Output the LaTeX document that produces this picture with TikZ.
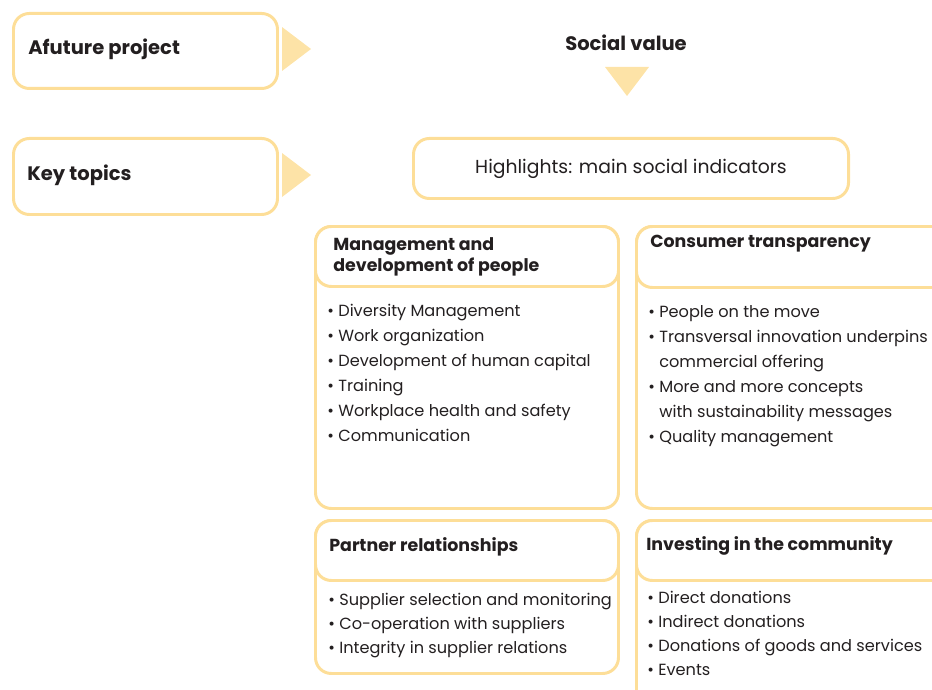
\documentclass[tikz,border=0pt]{standalone}
\usepackage{fontspec}
\setmainfont{Poppins}
\usetikzlibrary{positioning}
\definecolor{sunline}{RGB}{253,222,152}
\definecolor{sunfill}{RGB}{253,227,167}
\definecolor{ink}{RGB}{35,31,32}

\begin{document}
\begin{tikzpicture}[
      x=0.02cm, y=-0.02cm,
      dims/.style 2 args={minimum width=#1*0.02cm, minimum height=#2*0.02cm},
      frame/.style={draw=sunline, line width=1.7pt, rounded corners=9pt,
        fill=white, anchor=north west, inner sep=0pt, text=ink},
      title/.style={font=\bfseries\fontsize{11.1}{13}\selectfont, text=ink,
        inner sep=0pt, align=left},
      head/.style={font=\bfseries\fontsize{9.9}{12}\selectfont, text=ink,
        anchor=west, inner sep=0pt, align=left},
      items/.style={font=\fontsize{9.2}{14.2}\selectfont, text=ink,
        anchor=north west, inner sep=0pt, align=left},
      pointer/.style={fill=sunfill}
    ]
    \useasboundingbox (0,0) rectangle (932,689);
    \clip (0,0) rectangle (932,689);

    % left column
    \node[frame, dims={264}{75}]  (future) at (12,12)  {};
    \node[frame, dims={264}{76}]  (topics) at (12,137) {};
    \node[title, anchor=west] (futuretxt) at (28,49)  {Afuture project};
    \node[title, anchor=west] (topicstxt) at (27,175) {Key topics};
    \fill[pointer] (282,27)  -- (311,49)  -- (282,71)  -- cycle;
    \fill[pointer] (282,153) -- (311,175) -- (282,197) -- cycle;

    % top of the right part
    \node[title] (social) at (626,43) {Social value};
    \fill[pointer] (605,67) -- (649,67) -- (627,96) -- cycle;
    \node[frame, dims={435}{60}, font=\fontsize{10.7}{13}\selectfont]
      (highlight) at (412,137) {Highlights: main social indicators};

    % four topic boxes: body first, header on top
    \node[frame, dims={303}{282}] (people)    at (314,225) {};
    \node[frame, dims={303}{60}]  (peoplehd)  at (314,225) {};
    \node[frame, dims={320}{282}] (consumer)  at (635,225) {};
    \node[frame, dims={320}{61}]  (consumerhd) at (635,225) {};
    \node[frame, dims={303}{153}] (partner)   at (314,519) {};
    \node[frame, dims={303}{60}]  (partnerhd) at (314,519) {};
    \node[frame, dims={320}{200}] (community) at (635,519) {};
    \node[frame, dims={320}{60}]  (communityhd) at (635,519) {};

    \node[head] (peopletxt) at (333,257)
      {Management and\\development of people};
    \node[head] (consumertxt)  at (650,244) {Consumer transparency};
    \node[head] (partnertxt)   at (329,547) {Partner relationships};
    \node[head] (communitytxt) at (646,546) {Investing in the community};

    \node[items] (peoplelist) at (327,304)
      {\textbullet\ Diversity Management\\
       \textbullet\ Work organization\\
       \textbullet\ Development of human capital\\
       \textbullet\ Training\\
       \textbullet\ Workplace health and safety\\
       \textbullet\ Communication};
    \node[items] (consumerlist) at (648,305)
      {\textbullet\ People on the move\\
       \textbullet\ Transversal innovation underpins\\
       \hphantom{\textbullet\ }commercial offering\\
       \textbullet\ More and more concepts\\
       \hphantom{\textbullet\ }with sustainability messages\\
       \textbullet\ Quality management};
    \node[items, font=\fontsize{9.2}{13.7}\selectfont] (partnerlist) at (328,593)
      {\textbullet\ Supplier selection and monitoring\\
       \textbullet\ Co-operation with suppliers\\
       \textbullet\ Integrity in supplier relations};
    \node[items, font=\fontsize{9.2}{13.7}\selectfont] (communitylist) at (647,591)
      {\textbullet\ Direct donations\\
       \textbullet\ Indirect donations\\
       \textbullet\ Donations of goods and services\\
       \textbullet\ Events};
  \end{tikzpicture}
\end{document}
